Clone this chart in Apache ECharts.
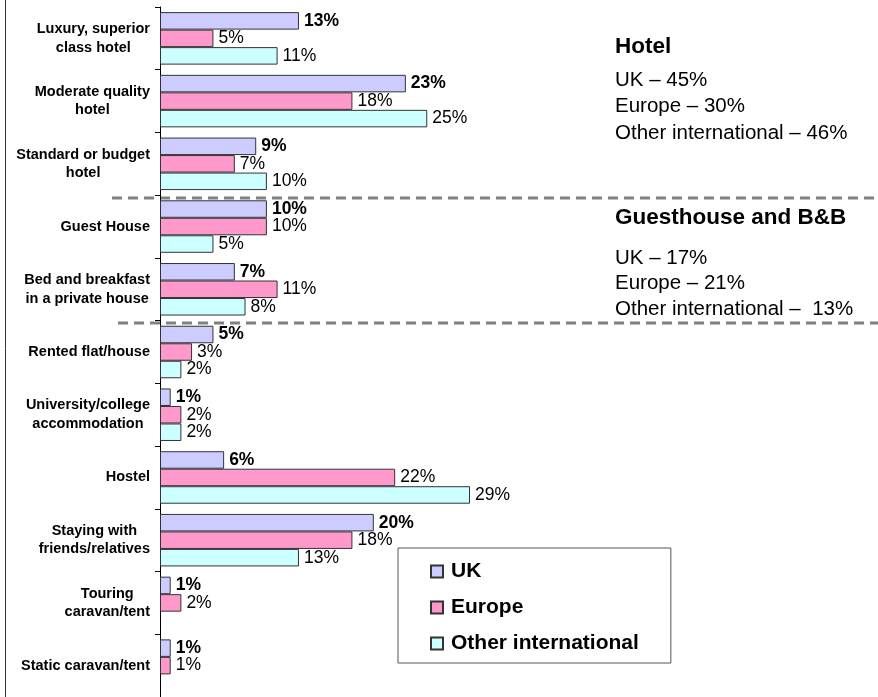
<!DOCTYPE html>
<html lang="en">
<head>
    <meta charset="UTF-8">
    <title>Accommodation type by visitor origin</title>
    <script src="https://cdn.jsdelivr.net/npm/echarts@6/dist/echarts.min.js"></script>
    <style>
        html, body {
            margin: 0;
            padding: 0;
            background: #fff;
        }
        #chart {
            width: 878px;
            height: 697px;
        }
    </style>
</head>
<body>
    <div id="chart"></div>
    <script>
        // data (percent)
        var categories = [
            'Luxury, superior\nclass hotel',
            'Moderate quality\nhotel',
            'Standard or budget\nhotel',
            'Guest House',
            'Bed and breakfast\nin a private house',
            'Rented flat/house',
            'University/college\naccommodation',
            'Hostel',
            'Staying with\nfriends/relatives',
            'Touring\ncaravan/tent',
            'Static caravan/tent'
        ];
        var seriesNames = ['UK', 'Europe', 'Other international'];
        var ukValues = [13, 23, 9, 10, 7, 5, 1, 6, 20, 1, 1];
        var europeValues = [5, 18, 7, 10, 11, 3, 2, 22, 18, 2, 1];
        var otherValues = [11, 25, 10, 5, 8, 2, 2, 29, 13, null, null];

        var hotelTitle = 'Hotel';
        var hotelLines = ['UK \u2013 45%', 'Europe \u2013 30%', 'Other international \u2013 46%'];
        var guestTitle = 'Guesthouse and B&B';
        var guestLines = ['UK \u2013 17%', 'Europe \u2013 21%', 'Other international \u2013  13%'];

        var FONT = "'Liberation Sans', Arial, sans-serif";
        var colors = ['#ccccff', '#ff99cc', '#ccffff'];

        function barSeries(name, data, color, bold) {
            return {
                name: name,
                type: 'bar',
                data: data,
                barWidth: 17.5,
                barGap: '0%',
                itemStyle: { color: color, borderColor: '#333', borderWidth: 1 },
                label: {
                    show: true,
                    position: 'right',
                    distance: 5,
                    formatter: '{c}%',
                    color: '#000',
                    fontFamily: FONT,
                    fontSize: 17.5,
                    fontWeight: bold ? 'bold' : 'normal'
                }
            };
        }

        var chart = echarts.init(document.getElementById('chart'));
        chart.setOption({
            animation: false,
            backgroundColor: '#fff',
            grid: { left: 160, top: 7, width: 320.7, height: 694 },
            xAxis: {
                type: 'value',
                min: 0,
                max: 30,
                show: false,
                splitLine: { show: false }
            },
            yAxis: {
                type: 'category',
                inverse: true,
                data: categories,
                axisLine: { show: true, lineStyle: { color: '#000', width: 1 } },
                axisTick: { show: true, length: 5, lineStyle: { color: '#000' } },
                axisLabel: {
                    margin: 10,
                    align: 'right',
                    formatter: function (v) {
                        return v.split('\n').map(function (s) { return '{c|' + s + '}'; }).join('\n');
                    },
                    rich: {
                        c: {
                            fontFamily: FONT,
                            fontSize: 14.5,
                            fontWeight: 'bold',
                            color: '#000',
                            align: 'center',
                            lineHeight: 18.5
                        }
                    }
                }
            },
            legend: {
                data: seriesNames,
                orient: 'vertical',
                left: 398,
                top: 548,
                itemWidth: 12,
                itemHeight: 12,
                itemGap: 15,
                icon: 'rect',
                padding: [13, 32, 9, 32],
                borderColor: '#555',
                borderWidth: 1,
                backgroundColor: '#fff',
                textStyle: { fontFamily: FONT, fontSize: 21, fontWeight: 'bold', color: '#000', padding: [0, 0, 0, 3] }
            },
            graphic: [
                // frame line on the left edge
                { type: 'line', shape: { x1: 5.5, y1: 0, x2: 5.5, y2: 697 }, style: { stroke: '#333', lineWidth: 1 } },
                // section separators
                { type: 'line', shape: { x1: 112, y1: 198, x2: 878, y2: 198 }, style: { stroke: '#808080', lineWidth: 3, lineDash: [10, 6] } },
                { type: 'line', shape: { x1: 118, y1: 323, x2: 878, y2: 323 }, style: { stroke: '#808080', lineWidth: 3, lineDash: [10, 6] } },
                { type: 'text', x: 615, y: 47, style: { text: hotelTitle, font: 'bold 22.5px ' + FONT, fill: '#000', verticalAlign: 'middle' } },
                { type: 'text', x: 615, y: 106.5, style: { text: hotelLines.join('\n'), font: '20.5px ' + FONT, lineHeight: 26.5, fill: '#000', verticalAlign: 'middle' } },
                { type: 'text', x: 615, y: 218, style: { text: guestTitle, font: 'bold 22.5px ' + FONT, fill: '#000', verticalAlign: 'middle' } },
                { type: 'text', x: 615, y: 283.5, style: { text: guestLines.join('\n'), font: '20.5px ' + FONT, lineHeight: 25.5, fill: '#000', verticalAlign: 'middle' } }
            ],
            series: [
                barSeries(seriesNames[0], ukValues, colors[0], true),
                barSeries(seriesNames[1], europeValues, colors[1], false),
                barSeries(seriesNames[2], otherValues, colors[2], false)
            ]
        });
    </script>
</body>
</html>
